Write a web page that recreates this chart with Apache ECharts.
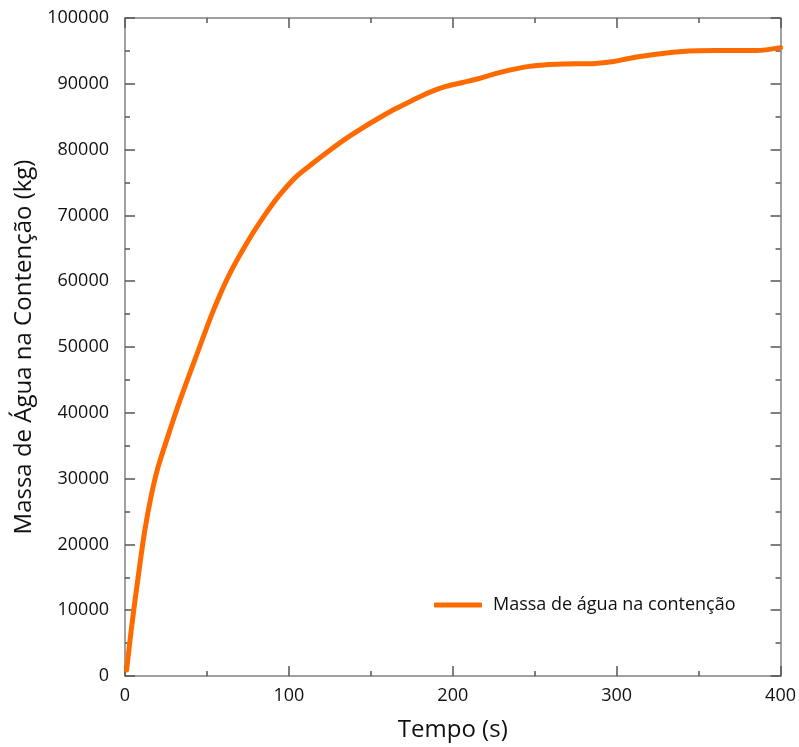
<!DOCTYPE html>
<html>
<head>
<meta charset="utf-8">
<script src="https://cdn.jsdelivr.net/npm/echarts@6/dist/echarts.min.js"></script>
<style>html,body{margin:0;padding:0;background:#fff;}#c{width:799px;height:747px;}</style>
</head>
<body>
<div id="c"></div>
<script>
var tempo = [1, 4, 8, 12, 16, 20, 26, 33, 43, 54, 64, 76, 86, 94, 104.5, 115, 125, 135, 145, 155, 165, 175.5, 185.7, 195.8, 206, 216, 226, 236, 246.6, 257, 267, 287, 297, 307.5, 317.6, 328, 338, 350, 370, 385, 400];
var massa = [900, 7400, 15000, 22000, 27400, 31600, 36300, 41500, 48300, 55600, 61200, 66500, 70300, 73000, 75900, 78000, 79900, 81700, 83300, 84800, 86200, 87500, 88700, 89600, 90200, 90800, 91550, 92150, 92650, 92900, 93000, 93100, 93350, 93850, 94250, 94600, 94880, 95030, 95050, 95050, 95500];
var seriesName = 'Massa de água na contenção';
var xTitle = 'Tempo (s)';
var yTitle = 'Massa de Água na Contenção (kg)';

var font = 'Open Sans';
var axisCol = '#808080';
var tickCol = '#555555';
function axisBase(extra) {
  var o = {
    axisLine: {show: true, onZero: false, lineStyle: {color: axisCol, width: 1.5}},
    axisTick: {show: true, inside: true, length: 10, lineStyle: {color: tickCol, width: 1.5}},
    minorTick: {show: true, splitNumber: 2, length: 5, lineStyle: {color: tickCol, width: 1.5}},
    splitLine: {show: false},
    minorSplitLine: {show: false}
  };
  for (var k in extra) o[k] = extra[k];
  return o;
}
function plain(v) { return String(v); }
var chart = echarts.init(document.getElementById('c'));
chart.setOption({
  animation: false,
  backgroundColor: '#fff',
  grid: {left: 125, right: 17, top: 18, bottom: 71},
  legend: {
    data: [{name: seriesName, icon: 'roundRect'}],
    left: 429, top: 591,
    itemWidth: 48, itemHeight: 5,
    textStyle: {fontFamily: font, fontSize: 18, color: '#111', padding: [0, 0, 0, 6]}
  },
  xAxis: [
    axisBase({type: 'value', min: 0, max: 400, interval: 100, position: 'bottom',
      name: xTitle, nameLocation: 'middle', nameGap: 42,
      nameTextStyle: {fontFamily: font, fontSize: 24, color: '#111'},
      axisLabel: {fontFamily: font, fontSize: 18, color: '#111', margin: 11, formatter: plain}}),
    axisBase({type: 'value', min: 0, max: 400, interval: 100, position: 'top', axisLabel: {show: false}})
  ],
  yAxis: [
    axisBase({type: 'value', min: 0, max: 100000, interval: 10000, position: 'left',
      name: yTitle, nameLocation: 'middle', nameGap: 88,
      nameTextStyle: {fontFamily: font, fontSize: 24, color: '#111'},
      axisLabel: {fontFamily: font, fontSize: 18, color: '#111', margin: 16, formatter: plain}}),
    axisBase({type: 'value', min: 0, max: 100000, interval: 10000, position: 'right', axisLabel: {show: false}})
  ],
  series: [{
    name: seriesName,
    type: 'line',
    smooth: 0.3,
    showSymbol: false,
    symbol: 'none',
    data: tempo.map(function (t, i) { return [t, massa[i]]; }),
    lineStyle: {color: '#ff6a00', width: 5, cap: 'round'},
    itemStyle: {color: '#ff6a00'}
  }]
});
</script>
</body>
</html>
